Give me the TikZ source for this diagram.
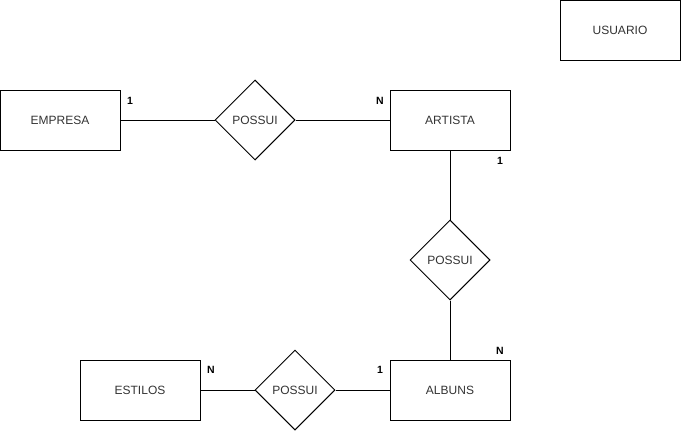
\documentclass[tikz,border=0pt]{standalone}
\usepackage{fontspec}
\setmainfont{Liberation Sans}
\usetikzlibrary{shapes.geometric}

\begin{document}
\begin{tikzpicture}[%%
  x=1pt,y=-1pt,%%
  entityStyle/.style={draw,line width=1pt,rectangle,minimum width=120pt,minimum height=60pt,inner sep=0pt,font=\fontsize{12}{14}\selectfont,text=black!80},%%
  relationStyle/.style={draw,line width=1pt,diamond,aspect=1,minimum width=80pt,minimum height=80pt,inner sep=0pt,font=\fontsize{12}{14}\selectfont,text=black!80},%%
  cardStyle/.style={font=\bfseries\fontsize{10.5}{12}\selectfont,inner sep=0pt},%%
  lineStyle/.style={-,line width=1pt}%%
]
%%
\useasboundingbox (0,0) rectangle (681,431);
%%
%% Entities.
\node[entityStyle] (usuario) at (620,30) {USUARIO};
\node[entityStyle] (empresa) at (60,120) {EMPRESA};
\node[entityStyle] (artista) at (450,120) {ARTISTA};
\node[entityStyle] (albuns) at (450,390) {ALBUNS};
\node[entityStyle] (estilos) at (140,390) {ESTILOS};
%% Relationships.
\node[relationStyle] (possuiEmpArt) at (255,120) {POSSUI};
\node[relationStyle] (possuiArtAlb) at (450,260) {POSSUI};
\node[relationStyle] (possuiEstAlb) at (295,390) {POSSUI};
%% Connect them.
\draw[lineStyle] (empresa.east) -- (possuiEmpArt.west);
\draw[lineStyle] (possuiEmpArt.east) -- (artista.west);
\draw[lineStyle] (artista.south) -- (possuiArtAlb.north);
\draw[lineStyle] (possuiArtAlb.south) -- (albuns.north);
\draw[lineStyle] (estilos.east) -- (possuiEstAlb.west);
\draw[lineStyle] (possuiEstAlb.east) -- (albuns.west);
%% Cardinalities.
\node[cardStyle] (cardEmpresa) at (130,101) {1};
\node[cardStyle] (cardArtistaN) at (380,101) {N};
\node[cardStyle] (cardArtista1) at (500,161) {1};
\node[cardStyle] (cardAlbunsN) at (500,351) {N};
\node[cardStyle] (cardEstilos) at (211,370) {N};
\node[cardStyle] (cardAlbuns1) at (380,370) {1};
\end{tikzpicture}
\end{document}
